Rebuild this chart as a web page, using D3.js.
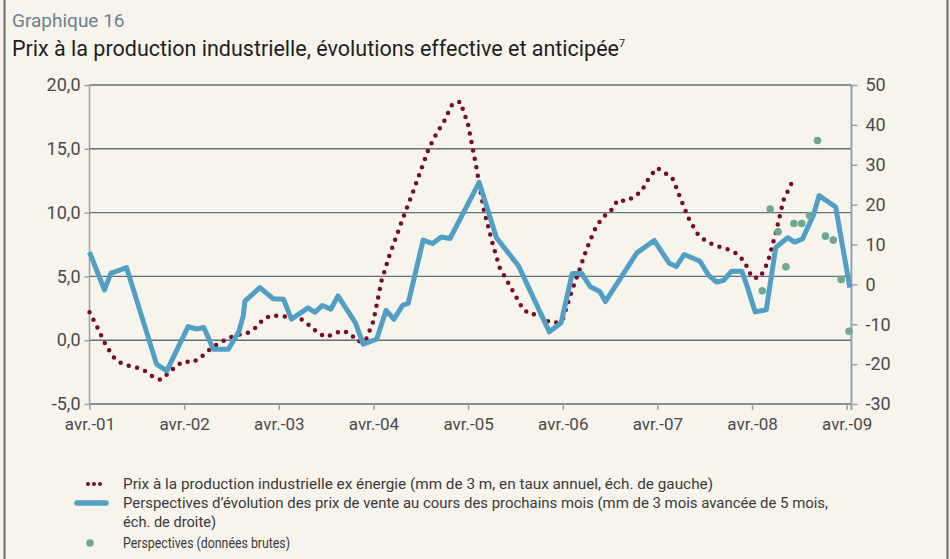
<!DOCTYPE html>
<html>
<head>
<meta charset="utf-8">
<script src="https://cdn.jsdelivr.net/npm/d3@7"></script>
<style>
  body { margin: 0; background: #f7f4ec; }
  svg { display: block; }
  text { font-family: Roboto, "DejaVu Sans", sans-serif; }
</style>
</head>
<body>
<svg id="chart" width="950" height="559"></svg>
<script>
// Months are counted from avr.-01 (0) to avr.-09 (96)
const xTickMonths = [0, 12, 24, 36, 48, 60, 72, 84, 96];
const xTickLabels = ['avr.-01', 'avr.-02', 'avr.-03', 'avr.-04', 'avr.-05', 'avr.-06', 'avr.-07', 'avr.-08', 'avr.-09'];
const leftTicks = [-5, 0, 5, 10, 15, 20];
const rightTicks = [-30, -20, -10, 0, 10, 20, 30, 40, 50];

// Prix à la production industrielle ex énergie (left scale), monthly from avr.-01
const prixValues = [
  2.2, 1.0, -0.3, -1.3, -1.8, -2.0, -2.15, -2.4, -2.85, -3.1,
  -2.6, -2.0, -1.65, -1.75, -1.4, -0.85, -0.4, -0.05, 0.25, 0.45,
  0.55, 0.95, 1.6, 1.95, 1.9, 1.85, 1.75, 1.6, 1.1, 0.55,
  0.25, 0.5, 0.75, 0.55, -0.1, -0.05, 1.5, 4.6, 6.6, 8.3,
  10.0, 11.6, 13.3, 15.0, 16.2, 17.2, 18.5, 18.7, 16.9, 13.7,
  10.2, 7.8, 5.7, 4.6, 3.5, 2.4, 2.0, 2.1, 1.5, 1.35,
  1.6, 3.6, 5.3, 7.1, 8.6, 9.6, 10.05, 11.0, 10.9, 11.2,
  11.7, 12.8, 13.5, 13.1, 12.6, 11.0, 9.5, 8.4, 7.85, 7.5,
  7.3, 7.1, 6.8, 6.2, 4.9, 4.9, 6.1, 8.4, 11.0, 12.3
];

// Perspectives d'évolution des prix de vente (right scale): month, value
const perspMonths = [
  0, 1.9, 2.7, 4.7, 8.5, 9.8, 12.5, 13.6, 14.5, 15.7,
  17.6, 18.9, 19.5, 19.7, 21.6, 23.3, 24.6, 25.6, 27.7, 28.6,
  29.5, 30.6, 31.5, 33.7, 34.7, 36.4, 37.6, 38.6, 39.7, 40.4,
  42.3, 43.5, 44.6, 45.7, 49.4, 51.6, 54.4, 58.3, 59.8, 61.2,
  62.4, 63.5, 64.7, 65.4, 69.4, 71.6, 73.5, 74.4, 75.4, 77.4,
  78.5, 79.5, 80.4, 81.4, 82.7, 83.3, 84.4, 85.8, 87.0, 88.5,
  89.4, 90.4, 91.8, 92.5, 94.6, 96.4
];
const perspValues = [
  8.1, -1.4, 2.75, 4.2, -20, -21.7, -10.6, -11.2, -10.8, -16.25,
  -16.25, -12, -7.9, -4.2, -0.8, -3.6, -3.7, -8.7, -5.9, -7.0,
  -5.3, -6.2, -2.9, -9.6, -15, -13.75, -6.5, -8.75, -5.25, -4.75,
  11.1, 10.25, 11.9, 11.5, 25.6, 11.7, 4.6, -11.9, -9.6, 2.75,
  2.75, -0.6, -1.8, -4.3, 7.9, 11.0, 5.3, 4.5, 7.5, 5.8,
  2.25, 0.6, 1.0, 3.3, 3.3, 0, -6.9, -6.4, 9.2, 11.7,
  10.6, 11.4, 17.5, 22.25, 19.4, -0.8
];

// Perspectives (données brutes), right scale
const brutesMonths = [85.3, 86.3, 87.3, 88.3, 89.3, 90.3, 91.3, 92.3, 93.3, 94.3, 95.3, 96.3];
const brutesValues = [-1.6, 18.9, 13.2, 4.4, 15.25, 15.25, 17.25, 36.1, 12.1, 11.1, 1.25, -11.75];

const legendItems = [
  'Prix à la production industrielle ex énergie (mm de 3 m, en taux annuel, éch. de gauche)',
  'Perspectives d\u2019évolution des prix de vente au cours des prochains mois (mm de 3 mois avancée de 5 mois,',
  'éch. de droite)',
  'Perspectives (données brutes)'
];

const colors = {
  prix: '#7b0a2a',
  persp: '#529fc6',
  brutes: '#6ea793',
  grid: '#5f6f7c',
  axis: '#95a2ad',
  label: '#4a4a4a'
};

function drawChart() {
  const svg = d3.select('#chart');

  svg.append('rect').attr('width', 950).attr('height', 559).attr('fill', '#f7f4ec');
  svg.append('line').attr('x1', 4.5).attr('x2', 4.5).attr('y1', 0).attr('y2', 559)
    .attr('stroke', '#6b6b6b').attr('stroke-width', 2);
  svg.append('line').attr('x1', 947.5).attr('x2', 947.5).attr('y1', 0).attr('y2', 559)
    .attr('stroke', '#6b6b6b').attr('stroke-width', 2);

  // Titles
  svg.append('text').attr('x', 12).attr('y', 27)
    .attr('font-size', 19).attr('fill', '#6c8192')
    .text('Graphique 16');
  const title = svg.append('text').attr('x', 12).attr('y', 56)
    .attr('font-size', 21.5).attr('fill', '#1e1e1e');
  title.append('tspan').text('Prix à la production industrielle, évolutions effective et anticipée');
  title.append('tspan').attr('font-size', 11).attr('dy', -9).text('7');

  const x = d3.scaleLinear().domain([0, 96]).range([89.5, 846.7]);
  const yL = d3.scaleLinear().domain([-5, 20]).range([404, 85]);
  const yR = d3.scaleLinear().domain([-30, 50]).range([404, 85]);
  const xRight = x(96.6);

  // Gridlines from the left scale
  svg.append('g').selectAll('line')
    .data(leftTicks)
    .enter()
    .append('line')
    .attr('x1', x(0)).attr('x2', xRight)
    .attr('y1', d => yL(d)).attr('y2', d => yL(d))
    .attr('stroke', colors.grid).attr('stroke-width', 1.4);

  // Vertical axis lines
  svg.append('line').attr('x1', x(0)).attr('x2', x(0)).attr('y1', yL(20)).attr('y2', yL(-5))
    .attr('stroke', colors.axis).attr('stroke-width', 1.5);
  svg.append('line').attr('x1', xRight).attr('x2', xRight).attr('y1', yR(50)).attr('y2', yR(-30) + 6)
    .attr('stroke', colors.axis).attr('stroke-width', 2);

  const fmtLeft = d => d3.format('.1f')(d).replace('.', ',').replace('\u2212', '-');

  const gL = svg.append('g')
    .attr('transform', `translate(${x(0)},0)`)
    .call(d3.axisLeft(yL).tickValues(leftTicks).tickFormat(fmtLeft).tickSize(5).tickPadding(4));

  const gR = svg.append('g')
    .attr('transform', `translate(${xRight},0)`)
    .call(d3.axisRight(yR).tickValues(rightTicks).tickFormat(d => String(d)).tickSize(6).tickPadding(8));

  const gX = svg.append('g')
    .attr('transform', `translate(0,${yL(-5)})`)
    .call(d3.axisBottom(x).tickValues(xTickMonths).tickFormat((d, i) => xTickLabels[i]).tickSize(6).tickPadding(8));

  [gL, gR, gX].forEach(g => {
    g.select('.domain').remove();
    g.selectAll('.tick line').attr('stroke', colors.axis).attr('stroke-width', 1.5);
    g.selectAll('.tick text')
      .attr('fill', colors.label)
      .attr('font-size', 18)
      .style('font-family', 'Roboto, sans-serif');
  });
  gX.selectAll('.tick text').attr('font-size', 17);

  // Dotted series
  const prixLine = d3.line()
    .x((d, i) => x(i))
    .y(d => yL(d));
  svg.append('path')
    .datum(prixValues)
    .attr('d', prixLine)
    .attr('fill', 'none')
    .attr('stroke', colors.prix)
    .attr('stroke-width', 4.5)
    .attr('stroke-linecap', 'round')
    .attr('stroke-dasharray', '0 8.6');

  // Blue series
  const perspData = perspMonths.map((m, i) => [m, perspValues[i]]);
  const perspLine = d3.line()
    .x(d => x(d[0]))
    .y(d => yR(d[1]));
  svg.append('path')
    .datum(perspData)
    .attr('d', perspLine)
    .attr('fill', 'none')
    .attr('stroke', colors.persp)
    .attr('stroke-width', 5)
    .attr('stroke-linejoin', 'round');

  // Raw points
  const brutesData = brutesMonths.map((m, i) => [m, brutesValues[i]]);
  svg.append('g').selectAll('circle')
    .data(brutesData)
    .enter()
    .append('circle')
    .attr('cx', d => x(d[0]))
    .attr('cy', d => yR(d[1]))
    .attr('r', 3.8)
    .attr('fill', colors.brutes);

  // Legend
  const legend = svg.append('g');
  legend.append('line')
    .attr('x1', 88).attr('x2', 106).attr('y1', 484).attr('y2', 484)
    .attr('stroke', colors.prix).attr('stroke-width', 4)
    .attr('stroke-linecap', 'round').attr('stroke-dasharray', '0 6');
  legend.append('line')
    .attr('x1', 77).attr('x2', 106).attr('y1', 503).attr('y2', 503)
    .attr('stroke', colors.persp).attr('stroke-width', 5.5)
    .attr('stroke-linecap', 'round');
  legend.append('circle')
    .attr('cx', 90).attr('cy', 543).attr('r', 3.8)
    .attr('fill', colors.brutes);

  const legendY = [489, 508, 527, 548];
  const legendW = [590, 705, 93, 167];
  legend.selectAll('text')
    .data(legendItems)
    .enter()
    .append('text')
    .attr('x', 123)
    .attr('y', (d, i) => legendY[i])
    .attr('font-size', 14)
    .attr('fill', '#3a3a3a')
    .attr('textLength', (d, i) => legendW[i])
    .attr('lengthAdjust', 'spacingAndGlyphs')
    .text(d => d);
}

document.addEventListener('DOMContentLoaded', drawChart);
</script>
</body>
</html>
